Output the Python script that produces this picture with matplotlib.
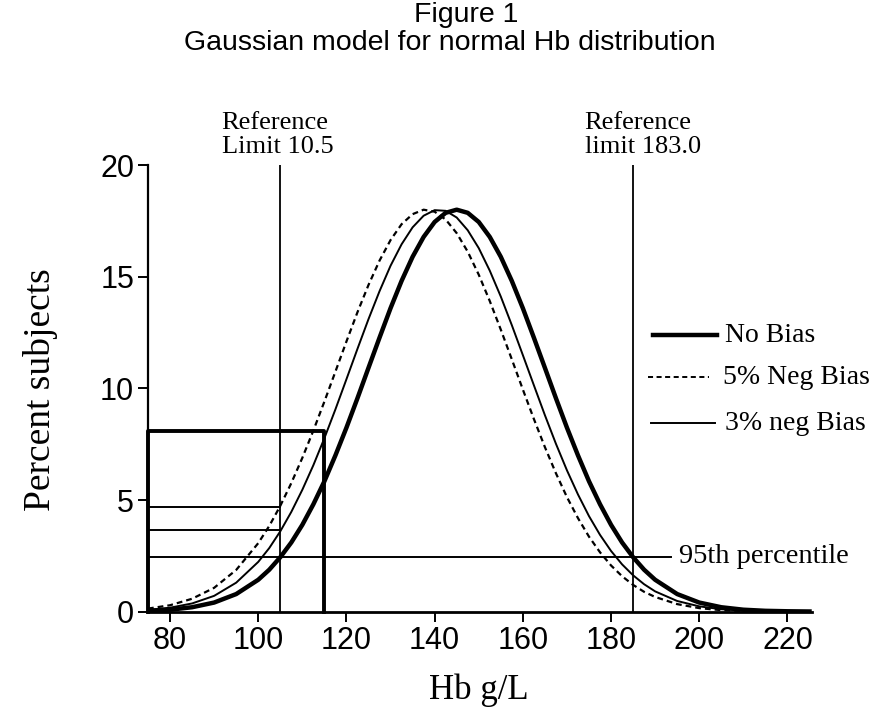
import matplotlib.pyplot as plt

# Hb values (g/L) and percent subjects
hb = [75, 80, 85, 90, 95, 100, 102.5, 105, 107.5, 110, 112.5, 115, 117.5, 120, 122.5, 125,
      127.5, 130, 132.5, 135, 137.5, 140, 142.5, 145, 147.5, 150, 152.5, 155, 157.5, 160,
      162.5, 165, 167.5, 170, 172.5, 175, 177.5, 180, 182.5, 185, 187.5, 190,
      195, 200, 205, 210, 215, 220, 225]
no_bias = [0.04, 0.09, 0.20, 0.41, 0.79, 1.43, 1.88, 2.44, 3.10, 3.89, 4.81, 5.84, 7.00, 8.24, 9.56, 10.92,
           12.27, 13.59, 14.81, 15.89, 16.78, 17.45, 17.86, 18.00, 17.86, 17.45, 16.78, 15.89, 14.81, 13.59,
           12.27, 10.92, 9.56, 8.24, 7.00, 5.84, 4.81, 3.89, 3.10, 2.44, 1.88, 1.43,
           0.79, 0.41, 0.20, 0.09, 0.04, 0.02, 0.01]
neg5 = [0.14, 0.29, 0.58, 1.07, 1.87, 3.07, 3.84, 4.74, 5.76, 6.89, 8.11, 9.41, 10.75, 12.10, 13.41, 14.63,
        15.72, 16.64, 17.35, 17.80, 18.00, 17.91, 17.56, 16.95, 16.12, 15.09, 13.91, 12.63, 11.30, 9.95,
        8.63, 7.37, 6.20, 5.13, 4.19, 3.36, 2.66, 2.07, 1.59, 1.20, 0.89, 0.66,
        0.34, 0.16, 0.07, 0.03, 0.01, 0.00, 0.00]
neg3 = [0.08, 0.18, 0.37, 0.71, 1.30, 2.23, 2.85, 3.60, 4.47, 5.46, 6.56, 7.77, 9.06, 10.41, 11.77, 13.10,
        14.35, 15.49, 16.45, 17.21, 17.73, 17.98, 17.95, 17.65, 17.08, 16.28, 15.27, 14.11, 12.83, 11.49,
        10.14, 8.80, 7.52, 6.33, 5.25, 4.28, 3.44, 2.72, 2.12, 1.63, 1.23, 0.91,
        0.48, 0.24, 0.11, 0.05, 0.02, 0.01, 0.00]

ref_low = 105
ref_high = 185
box_right = 115
box_top = 8.1
levels_at_low = [4.7, 3.65]
pct95 = 2.45

sans = 'Liberation Sans'
serif = 'Liberation Serif'

fig = plt.figure(figsize=(8.7, 7.2), dpi=100)
ax = fig.add_axes([0.1701, 0.1504, 0.7629, 0.6204])

ax.plot(hb, neg5, color='black', lw=1.6, linestyle=(0, (2.6, 1.8)))
ax.plot(hb, neg3, color='black', lw=1.4)
ax.plot(hb, no_bias, color='black', lw=3.2)

# reference limits
ax.plot([ref_low, ref_low], [0, 20], color='black', lw=1.3)
ax.plot([ref_high, ref_high], [0, 20], color='black', lw=1.3)

# box up to 115
ax.plot([75, 75, box_right, box_right], [0, box_top, box_top, 0], color='black', lw=2.8, clip_on=False)

# levels at lower reference limit
for lv in levels_at_low:
    ax.plot([75, ref_low], [lv, lv], color='black', lw=1.4)
ax.plot([75, 193.7], [pct95, pct95], color='black', lw=1.4, clip_on=False)
ax.text(195.3, pct95, '95th percentile', family=serif, fontsize=20.5, va='center', ha='left')

ax.text(91.7, 20.3, 'Reference\nLimit 10.5', family=serif, fontsize=19,
        ha='left', va='bottom', linespacing=1.15)
ax.text(174.0, 20.3, 'Reference\nlimit 183.0', family=serif, fontsize=19,
        ha='left', va='bottom', linespacing=1.15)

# legend drawn by hand
legend_rows = [
    ('No Bias', dict(lw=3.2), 0.6194, 0.7605, 0.857, 0.869),
    ('5% Neg Bias', dict(lw=1.4, linestyle=(0, (2.6, 1.8))), 0.5254, 0.753, 0.845, 0.866),
    ('3% neg Bias', dict(lw=1.4), 0.4224, 0.7575, 0.854, 0.869),
]
for label, style, yy, x0, x1, xt in legend_rows:
    ax.plot([x0, x1], [yy, yy], color='black', transform=ax.transAxes, clip_on=False, **style)
    ax.text(xt, yy, label, transform=ax.transAxes, family=serif, fontsize=20, va='center', ha='left')

ax.set_xlim(75, 225.5)
ax.set_ylim(0, 20)
ax.set_xticks([80, 100, 120, 140, 160, 180, 200, 220])
ax.set_yticks([0, 5, 10, 15, 20])
ax.spines['top'].set_visible(False)
ax.spines['right'].set_visible(False)
ax.spines['left'].set_linewidth(1.6)
ax.spines['bottom'].set_linewidth(2.0)
ax.tick_params(axis='both', direction='out', length=7, width=1.4, labelsize=22, pad=3)
for lab in ax.get_xticklabels() + ax.get_yticklabels():
    lab.set_family(sans)

fig.text(466 / 870, 1 - 22 / 720, 'Figure 1', family=sans, fontsize=20.5, ha='center', va='baseline')
fig.text(450 / 870, 1 - 50 / 720, 'Gaussian model for normal Hb distribution', family=sans,
         fontsize=20.5, ha='center', va='baseline')

fig.text(41 / 870, 1 - 390 / 720, 'Percent subjects', family=serif, fontsize=27,
         rotation=90, ha='center', va='center')
fig.text(479 / 870, 1 - 690 / 720, 'Hb g/L', family=serif, fontsize=25, ha='center', va='center')

fig.savefig('out.png', dpi=100)
